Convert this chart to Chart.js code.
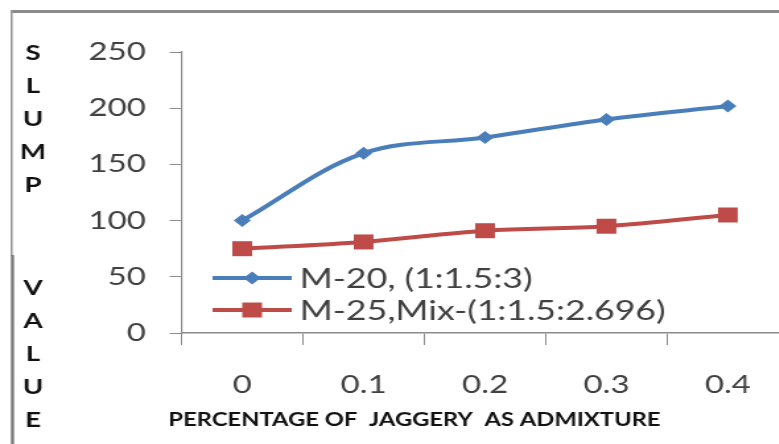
<!DOCTYPE html>
<html>
<head>
<meta charset="utf-8">
<script src="https://cdn.jsdelivr.net/npm/chart.js@4/dist/chart.umd.min.js"></script>
<style>
  html, body { margin: 0; padding: 0; background: #fff; }
  #wrap { position: relative; width: 779px; height: 444px; overflow: hidden; }
  /* the reference picture is stretched sideways, so the chart is too */
  #chart { position: absolute; left: 0; top: 0; width: 608px; height: 444px; transform: scaleX(1.32); transform-origin: 0 0; }
</style>
</head>
<body>
<div id="wrap">
  <canvas id="chart" width="608" height="444"></canvas>
</div>
<script>
const categories = ['0', '0.1', '0.2', '0.3', '0.4'];
const m20 = [100, 160, 174, 190, 202];
const m25 = [75, 81, 91, 95, 105];
const seriesNames = ['M-20, (1:1.5:3)', 'M-25,Mix-(1:1.5:2.696)'];
const yTitleWords = ['SLUMP', 'VALUE'];
const xTitle = 'PERCENTAGE OF  JAGGERY  AS ADMIXTURE';

const BLUE = '#4a7ebb';
const RED = '#be4b48';
const AXIS = '#8c8c8c';
const TEXT = '#404040';

// grey frame round the picture (only top and left edges are in view)
const frame = {
  id: 'frame',
  afterDraw(chart) {
    const ctx = chart.ctx;
    ctx.save();
    ctx.fillStyle = '#8a8a8a';
    ctx.fillRect(8, 10, chart.width, 3);
    ctx.fillStyle = '#9a9a9a';
    ctx.fillRect(8, 10, 1.6, 246);
    ctx.fillStyle = '#767676';
    ctx.fillRect(8.3, 255, 2.3, 189);
    ctx.restore();
  }
};

// titles and the in-plot legend
const sideText = {
  id: 'sideText',
  afterDraw(chart) {
    const ctx = chart.ctx;
    ctx.save();
    ctx.fillStyle = '#111';
    ctx.textAlign = 'center';
    ctx.textBaseline = 'middle';
    ctx.font = 'bold 21px Lato';
    yTitleWords.forEach((word, w) => {
      [...word].forEach((ch, i) => ctx.fillText(ch, 25, (w ? 288 : 53) + i * 33));
    });
    ctx.font = 'bold 18px Lato';
    ctx.fillText(xTitle, 314, 420);

    ctx.textAlign = 'left';
    ctx.font = '27px Lato';
    chart.data.datasets.forEach((ds, i) => {
      const y = 278 + i * 32;
      ctx.strokeStyle = ds.borderColor;
      ctx.fillStyle = ds.backgroundColor;
      ctx.lineWidth = ds.borderWidth;
      ctx.beginPath();
      ctx.moveTo(161, y);
      ctx.lineTo(221, y);
      ctx.stroke();
      Chart.helpers.drawPoint(ctx, {
        pointStyle: ds.pointStyle, radius: ds.pointRadius, rotation: 0, borderWidth: 0
      }, 191, y);
      ctx.fillStyle = TEXT;
      ctx.fillText(ds.label, 227, y + 1);
    });
    ctx.restore();
  }
};

new Chart(document.getElementById('chart'), {
  type: 'line',
  data: {
    labels: categories,
    datasets: [
      {
        label: seriesNames[0],
        data: m20,
        borderColor: BLUE,
        backgroundColor: BLUE,
        borderWidth: 4,
        pointStyle: 'rectRot',
        pointRadius: 6.5,
        pointBorderWidth: 0,
        tension: 0.35
      },
      {
        label: seriesNames[1],
        data: m25,
        borderColor: RED,
        backgroundColor: RED,
        borderWidth: 4,
        pointStyle: 'rect',
        pointRadius: 10.6,
        pointBorderWidth: 0,
        tension: 0.35
      }
    ]
  },
  options: {
    responsive: false,
    animation: false,
    layout: { padding: { left: 49, right: 2, top: 52, bottom: 19 } },
    plugins: { legend: { display: false }, tooltip: { enabled: false } },
    scales: {
      x: {
        offset: true,
        grid: { offset: true, drawOnChartArea: false, color: AXIS, tickLength: 12 },
        border: { color: AXIS, width: 1.5 },
        ticks: { color: TEXT, font: { family: 'Lato', size: 25 }, padding: 25, maxRotation: 0 }
      },
      y: {
        min: 0,
        max: 250,
        grid: { drawOnChartArea: false, color: AXIS, tickLength: 9 },
        border: { color: AXIS, width: 1.2 },
        ticks: { stepSize: 50, color: TEXT, font: { family: 'Lato', size: 25 }, padding: 18 }
      }
    }
  },
  plugins: [frame, sideText]
});
</script>
</body>
</html>
